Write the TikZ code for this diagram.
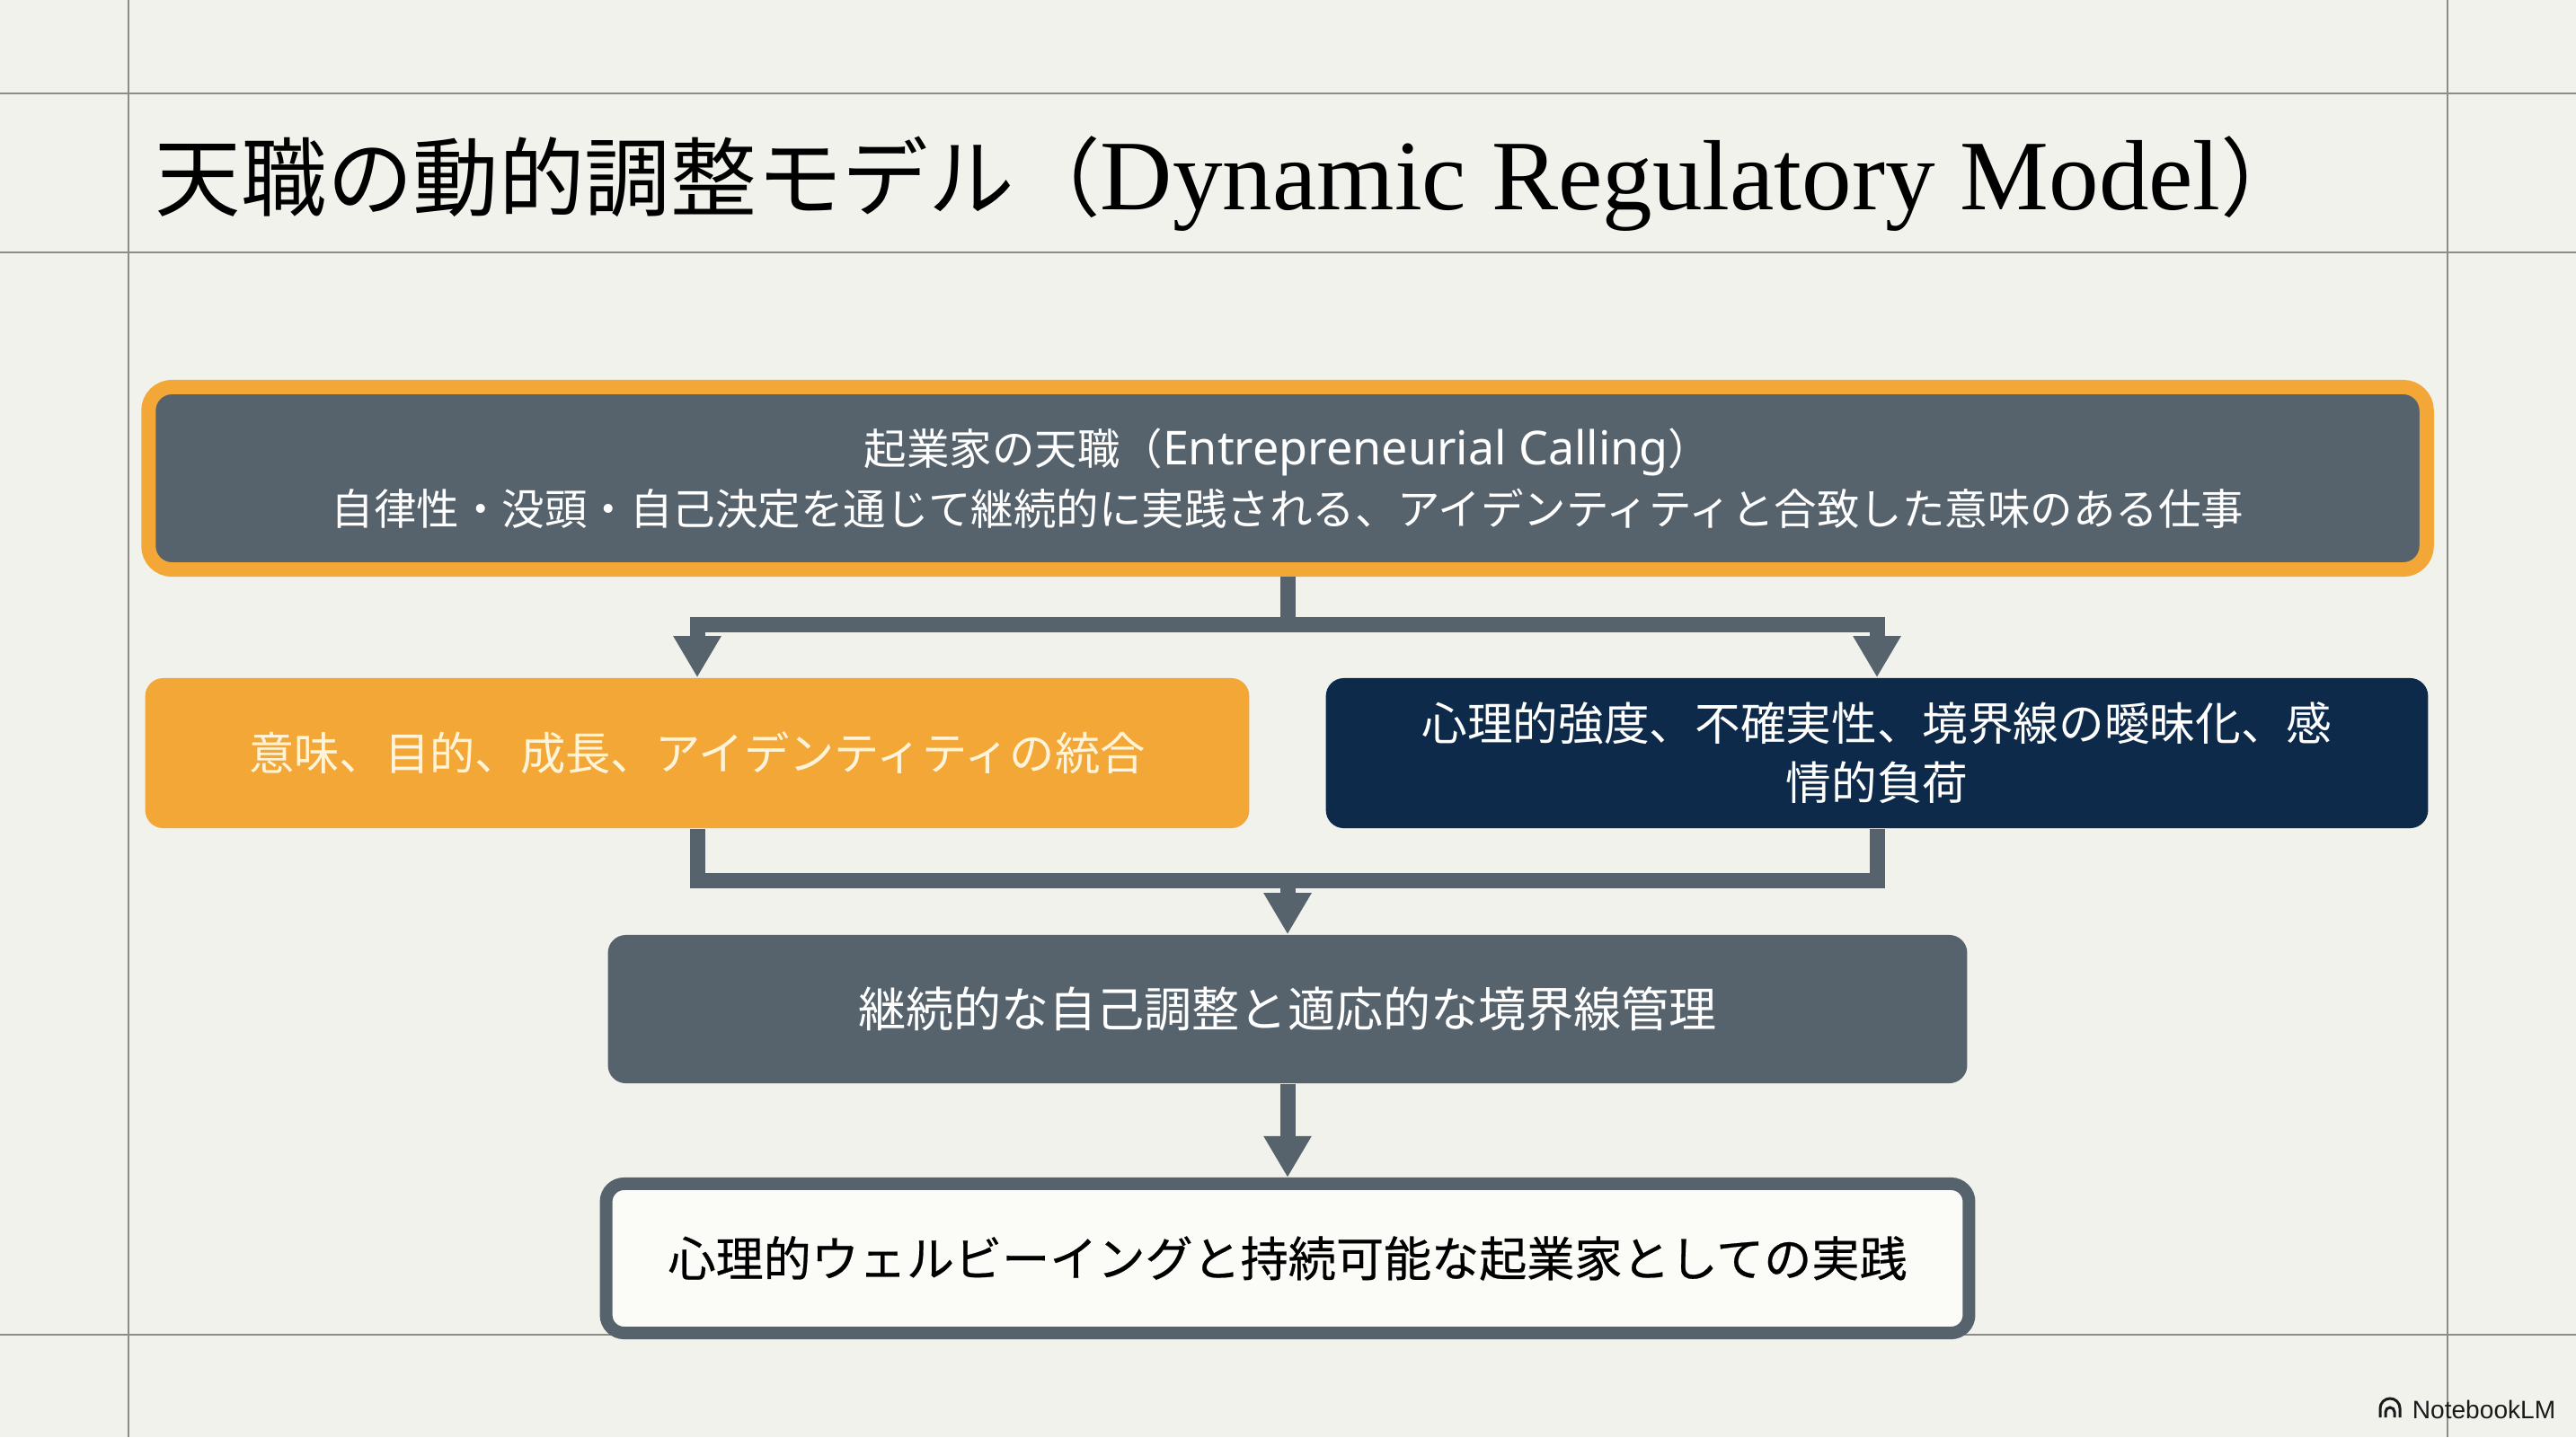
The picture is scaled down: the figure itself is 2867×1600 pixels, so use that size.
\documentclass[tikz,border=0pt]{standalone}
\usepackage{fontspec}
\setmainfont{Noto Sans CJK JP}
\newfontfamily\jpfont{Noto Sans CJK JP}
\newfontfamily\jpbold[FakeBold=0.45]{Noto Sans CJK JP}
\newfontfamily\serifen{Liberation Serif}
\newfontfamily\sansen{Noto Sans}
\newfontfamily\wmfont{Liberation Sans}
\usetikzlibrary{arrows.meta}
\definecolor{bg}{HTML}{F2F2EC}
\definecolor{gridc}{HTML}{8C8C88}
\definecolor{slate}{HTML}{56636D}
\definecolor{orng}{HTML}{F2A737}
\definecolor{navy}{HTML}{0D2A4B}
\definecolor{cream}{HTML}{FFF4DA}
\definecolor{boxwhite}{HTML}{FBFBF8}
\definecolor{wmtext}{HTML}{1A1A1A}
\begin{document}
\begin{tikzpicture}[x=0.01cm,y=-0.01cm,
  gridline/.style={draw=gridc, line width=0.025cm},
  boxbase/.style={rounded corners=0.2cm, inner sep=0pt, align=center},
  callbox/.style={boxbase, fill=slate, draw=orng, line width=0.16cm, rounded corners=0.26cm,
     minimum width=25.34cm, minimum height=2.03cm, text=white, font=\fontsize{13.5}{19}\selectfont},
  posbox/.style={boxbase, fill=orng, minimum width=12.28cm, minimum height=1.67cm,
     text=cream, font=\fontsize{14.3}{19}\selectfont},
  negbox/.style={boxbase, fill=navy, minimum width=12.26cm, minimum height=1.67cm,
     text=white, font=\fontsize{14.4}{18.8}\selectfont},
  midbox/.style={boxbase, fill=slate, minimum width=15.12cm, minimum height=1.65cm,
     text=white, font=\fontsize{15.1}{19}\selectfont},
  outbox/.style={boxbase, fill=boxwhite, draw=slate, line width=0.14cm,
     minimum width=15.16cm, minimum height=1.66cm, text=black, font=\jpbold\fontsize{15.1}{19}\selectfont},
  conn/.style={draw=slate, line width=0.17cm},
  arr/.style={conn, -{Triangle[width=0.5cm,length=0.46cm]}},
]
% background and frame
\fill[bg] (0,0) rectangle (2867,1600);
\useasboundingbox (0,0) rectangle (2867,1600);
\draw[gridline] (143,0) -- (143,1600);
\draw[gridline] (2724,0) -- (2724,1600);
\draw[gridline] (0,104) -- (2867,104);
\draw[gridline] (0,281) -- (2867,281);
\draw[gridline] (0,1486) -- (2867,1486);

% title
\node[anchor=base west, inner sep=0pt, text=black] (title) at (172,233)
  {\fontsize{27.2}{32}\selectfont\jpfont 天職の動的調整モデル（{\serifen\fontsize{31.6}{36}\selectfont Dynamic Regulatory Model}）};

% boxes
\node[callbox] (call) at (1433,532.5)
  {起業家の天職（{\sansen\fontsize{14.8}{19}\selectfont Entrepreneurial Calling}）\\自律性・没頭・自己決定を通じて継続的に実践される、アイデンティティと合致した意味のある仕事};
\node[posbox] (pos) at (776,838.5) {意味、目的、成長、アイデンティティの統合};
\node[negbox] (neg) at (2089,838.5) {心理的強度、不確実性、境界線の曖昧化、感\\情的負荷};
\node[midbox] (mid) at (1433,1123.5) {継続的な自己調整と適応的な境界線管理};
\node[outbox] (out) at (1433,1401) {心理的ウェルビーイングと持続可能な起業家としての実践};

% connectors
\coordinate (split) at (1433,695);
\coordinate (merge) at (1433,980);
\draw[conn] (call.south) -- (split);
\draw[arr] (split) -| (pos.north);
\draw[arr] (split) -| (neg.north);
\draw[conn] (pos.south) |- (merge);
\draw[conn] (neg.south) |- (merge);
\draw[arr] (merge) -- (mid.north);
\draw[arr] (mid.south) -- (out.north);

% watermark
\node[anchor=east, inner sep=0pt, text=wmtext, font=\wmfont\fontsize{8}{9}\selectfont] (wm) at (2845,1569) {NotebookLM};
\draw[wmtext, line width=0.03cm] (2649,1578) -- (2649,1568) arc[start angle=180, end angle=0, radius=0.11cm] -- (2671,1578);
\draw[wmtext, line width=0.03cm] (2655,1578) -- (2655,1572) arc[start angle=180, end angle=0, radius=0.05cm] -- (2665,1578);
\end{tikzpicture}
\end{document}
